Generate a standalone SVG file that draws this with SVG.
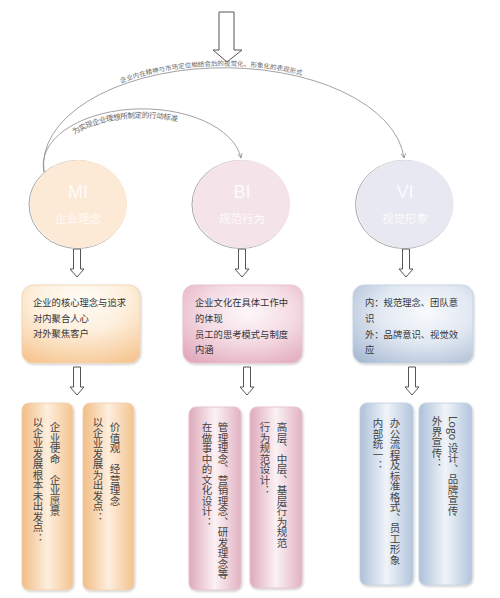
<svg xmlns="http://www.w3.org/2000/svg" width="500" height="598" viewBox="0 0 500 598">
<style>
.ar{fill:#fff;stroke:#555;stroke-width:1}
.arc{fill:none;stroke:#8a8a8a;stroke-width:0.8}
.at{font-family:"Noto Sans CJK SC","Noto Sans",sans-serif;font-size:6.5px;fill:#666}
.ct{font-family:"Liberation Sans","Noto Sans CJK SC",sans-serif;fill:#fff;fill-opacity:0.85;text-anchor:middle}
.mt{font-family:"Noto Sans CJK SC",sans-serif;font-size:9.3px;fill:#333}
.vt{font-family:"Noto Sans CJK SC",sans-serif;font-size:10.5px;fill:#444;writing-mode:vertical-rl}
.sh{fill:none;stroke:#9a9a9a;stroke-width:0.9}
</style>
<defs>
<marker id="ah" viewBox="0 0 8 8" refX="7" refY="4" markerWidth="6" markerHeight="6" orient="auto" markerUnits="userSpaceOnUse">
<path d="M1,1 L7,4 L1,7" fill="none" stroke="#8a8a8a" stroke-width="1"/>
</marker>
<path id="sa" d="M-3.5,0 H3.5 V20 H7 L0,28 L-7,20 H-3.5 Z"/>
<filter id="ds" x="-20%" y="-20%" width="140%" height="140%">
<feDropShadow dx="0.8" dy="1.2" stdDeviation="1" flood-color="#000" flood-opacity="0.22"/>
</filter>
<radialGradient id="gM" cx="50%" cy="20%" r="90%">
<stop offset="0" stop-color="#fffdf9"/><stop offset="0.45" stop-color="#fdefdc"/><stop offset="1" stop-color="#f6c48e"/>
</radialGradient>
<radialGradient id="gB" cx="55%" cy="35%" r="85%">
<stop offset="0" stop-color="#fdf8fa"/><stop offset="0.45" stop-color="#f4dbe3"/><stop offset="1" stop-color="#dfa0b5"/>
</radialGradient>
<radialGradient id="gV" cx="60%" cy="35%" r="85%">
<stop offset="0" stop-color="#f8fafd"/><stop offset="0.45" stop-color="#e2e9f2"/><stop offset="1" stop-color="#a5b8d2"/>
</radialGradient>
<linearGradient id="lM" x1="0" y1="0" x2="1" y2="0">
<stop offset="0" stop-color="#f1bd86"/><stop offset="0.5" stop-color="#fdeedd"/><stop offset="1" stop-color="#f3c38f"/>
</linearGradient>
<linearGradient id="lB" x1="0" y1="0" x2="1" y2="0">
<stop offset="0" stop-color="#deaabb"/><stop offset="0.5" stop-color="#fbf1f4"/><stop offset="1" stop-color="#e2b2c2"/>
</linearGradient>
<linearGradient id="lV" x1="0" y1="0" x2="1" y2="0">
<stop offset="0" stop-color="#aec1d9"/><stop offset="0.5" stop-color="#f0f4f9"/><stop offset="1" stop-color="#b3c5dc"/>
</linearGradient>
</defs>
<rect width="500" height="598" fill="#fff"/>

<g id="connectors">
<path class="ar" d="M219,12 H234 V50 H242 L227,62 L213,50 H219 Z"/>
<path id="arcBig" class="arc" d="M44,172 A180,97 0 0 1 404,158" marker-end="url(#ah)"/>
<path id="arcSmall" class="arc" d="M44,172 A99,56 0 0 1 241,158" marker-end="url(#ah)"/>
<text class="at" dy="-2"><textPath href="#arcBig" startOffset="217" text-anchor="middle">企业内在精神与市场定位相结合后的视觉化、形象化的表现形式</textPath></text>
<text class="at" style="font-size:7.5px" dy="9"><textPath href="#arcSmall" startOffset="112" text-anchor="middle">为实现企业理想所制定的行动标准</textPath></text>
<use href="#sa" class="ar" x="77" y="249"/>
<use href="#sa" class="ar" x="242" y="249"/>
<use href="#sa" class="ar" x="406" y="249"/>
<use href="#sa" class="ar" x="77" y="367"/>
<use href="#sa" class="ar" x="247" y="367"/>
<use href="#sa" class="ar" x="412" y="367"/>
</g>

<g id="MI">
<ellipse class="sh" cx="77.5" cy="204.5" rx="48.5" ry="44"/>
<ellipse cx="78.5" cy="204" rx="48.5" ry="44" fill="#fce9d6"/>
<text class="ct" x="78" y="198" font-size="18">MI</text>
<text class="ct" x="78" y="223" font-size="11.5" style="font-family:'Noto Sans CJK SC',sans-serif">企业理念</text>
</g>
<g id="BI">
<ellipse class="sh" cx="240.5" cy="204.5" rx="48.5" ry="44"/>
<ellipse cx="241.5" cy="204" rx="48.5" ry="44" fill="#f4e4ea"/>
<text class="ct" x="242" y="198" font-size="18">BI</text>
<text class="ct" x="242" y="223" font-size="11.5" style="font-family:'Noto Sans CJK SC',sans-serif">规范行为</text>
</g>
<g id="VI">
<ellipse class="sh" cx="404" cy="204.5" rx="48.5" ry="44"/>
<ellipse cx="405" cy="204" rx="48.5" ry="44" fill="#e7e8f1"/>
<text class="ct" x="405" y="198" font-size="18">VI</text>
<text class="ct" x="405" y="223" font-size="11.5" style="font-family:'Noto Sans CJK SC',sans-serif">视觉形象</text>
</g>

<g id="MI-desc">
<rect x="22" y="285" width="118" height="78" rx="11" fill="url(#gM)" stroke="#f0d2b0" stroke-width="0.8" filter="url(#ds)"/>
<text class="mt" x="33" y="306">企业的核心理念与追求</text>
<text class="mt" x="33" y="322">对内聚合人心</text>
<text class="mt" x="33" y="337">对外聚焦客户</text>
</g>
<g id="BI-desc">
<rect x="183" y="285" width="119" height="78" rx="11" fill="url(#gB)" stroke="#e6bfcc" stroke-width="0.8" filter="url(#ds)"/>
<text class="mt" x="195" y="306">企业文化在具体工作中</text>
<text class="mt" x="195" y="322">的体现</text>
<text class="mt" x="195" y="338">员工的思考模式与制度</text>
<text class="mt" x="195" y="353">内涵</text>
</g>
<g id="VI-desc">
<rect x="353" y="285" width="120" height="78" rx="11" fill="url(#gV)" stroke="#c3cfdf" stroke-width="0.8" filter="url(#ds)"/>
<text class="mt" x="365" y="306">内：规范理念、团队意</text>
<text class="mt" x="365" y="322">识</text>
<text class="mt" x="365" y="338">外：品牌意识、视觉效</text>
<text class="mt" x="365" y="353">应</text>
</g>

<g id="MI-1">
<rect x="22" y="403" width="51" height="187" rx="7" fill="url(#lM)" stroke="#efcfae" stroke-width="0.8" filter="url(#ds)"/>
<text class="vt" x="55" y="422" xml:space="preserve">企业使命　企业愿景</text>
<text class="vt" x="38" y="417">以企业发展根本未出发点：</text>
</g>
<g id="MI-2">
<rect x="83" y="403" width="51" height="187" rx="7" fill="url(#lM)" stroke="#efcfae" stroke-width="0.8" filter="url(#ds)"/>
<text class="vt" x="115" y="422" xml:space="preserve">价值观　经营理念</text>
<text class="vt" x="98" y="417">以企业发展为出发点：</text>
</g>
<g id="BI-1">
<rect x="189" y="407" width="52" height="183" rx="7" fill="url(#lB)" stroke="#e4c0cc" stroke-width="0.8" filter="url(#ds)"/>
<text class="vt" x="223" y="422">管理理念、营销理念、研发理念等</text>
<text class="vt" x="207" y="422">在做事中的文化设计：</text>
</g>
<g id="BI-2">
<rect x="250" y="407" width="52" height="181" rx="7" fill="url(#lB)" stroke="#e4c0cc" stroke-width="0.8" filter="url(#ds)"/>
<text class="vt" x="282" y="422">高层、中层、基层行为规范</text>
<text class="vt" x="265" y="422">行为规范设计：</text>
</g>
<g id="VI-1">
<rect x="360" y="403" width="53" height="182" rx="7" fill="url(#lV)" stroke="#c4d0df" stroke-width="0.8" filter="url(#ds)"/>
<text class="vt" x="395" y="418">办公流程及标准格式、员工形象</text>
<text class="vt" x="378" y="418">内部统一：</text>
</g>
<g id="VI-2">
<rect x="419" y="403" width="53" height="182" rx="7" fill="url(#lV)" stroke="#c4d0df" stroke-width="0.8" filter="url(#ds)"/>
<text class="vt" x="453" y="416">Logo 设计、品牌宣传</text>
<text class="vt" x="437" y="416">外界宣传：</text>
</g>
</svg>
